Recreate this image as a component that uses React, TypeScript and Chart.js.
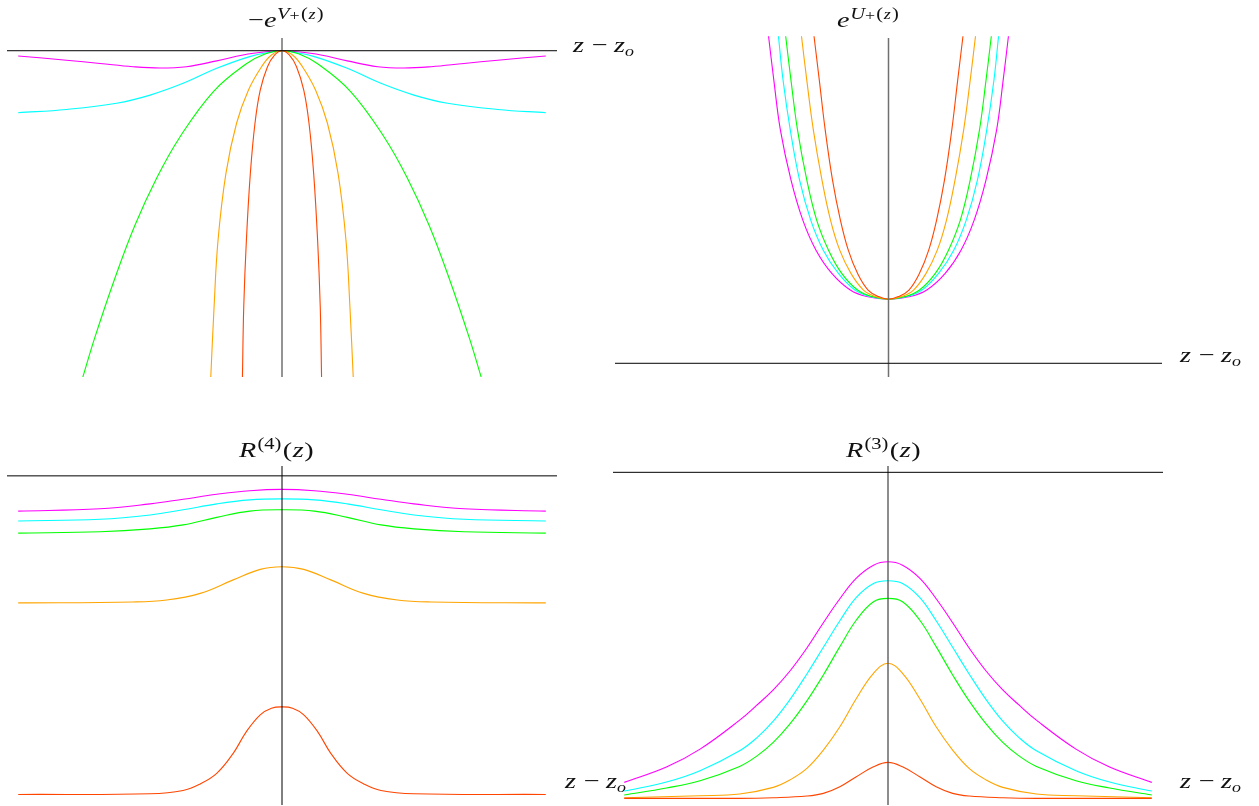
import React, { useEffect, useRef } from "react";
import { Chart, registerables } from "chart.js";

Chart.register(...registerables);

// ---------- colours ----------
const MAGENTA = "#ff00ff";
const CYAN = "#00ffff";
const GREEN = "#00ff00";
const ORANGE = "#ffa500";
const RED = "#ff4500";

// ---------- top-left: -e^{V+(z)} ----------
const tlMagentaX = [-4.0, -3.27, -2.76, -2.26, -1.85, -1.45, -0.99, -0.59, -0.23, 0, 0.23, 0.59, 0.99, 1.45, 1.85, 2.26, 2.76, 3.27, 4.0];
const tlMagentaY = [-0.16, -0.29, -0.39, -0.49, -0.53, -0.49, -0.31, -0.13, -0.03, 0, -0.03, -0.13, -0.31, -0.49, -0.53, -0.49, -0.39, -0.29, -0.16];
const tlCyanX = [-4.0, -3.27, -2.51, -2.0, -1.5, -0.99, -0.49, -0.13, 0, 0.13, 0.49, 0.99, 1.5, 2.0, 2.51, 3.27, 4.0];
const tlCyanY = [-1.9, -1.8, -1.61, -1.36, -1.0, -0.54, -0.18, -0.03, 0, -0.03, -0.18, -0.54, -1.0, -1.36, -1.61, -1.8, -1.9];
const tlGreenX = [-3.02, -2.84, -2.53, -2.23, -1.9, -1.55, -1.04, -0.54, -0.25, 0, 0.25, 0.54, 1.04, 1.55, 1.9, 2.23, 2.53, 2.84, 3.02];
const tlGreenY = [-10, -8.8, -6.95, -5.35, -3.9, -2.65, -1.25, -0.4, -0.09, 0, -0.09, -0.4, -1.25, -2.65, -3.9, -5.35, -6.95, -8.8, -10];
const tlOrangeX = [-1.08, -1.03, -0.97, -0.85, -0.69, -0.51, -0.31, -0.16, 0, 0.16, 0.31, 0.51, 0.69, 0.85, 0.97, 1.03, 1.08];
const tlOrangeY = [-10, -7.85, -5.81, -3.76, -2.23, -1.21, -0.49, -0.13, 0, -0.13, -0.49, -1.21, -2.23, -3.76, -5.81, -7.85, -10];
const tlRedX = [-0.6, -0.58, -0.54, -0.48, -0.41, -0.33, -0.22, -0.11, 0, 0.11, 0.22, 0.33, 0.41, 0.48, 0.54, 0.58, 0.6];
const tlRedY = [-10, -7.85, -5.81, -3.76, -2.23, -1.21, -0.49, -0.13, 0, -0.13, -0.49, -1.21, -2.23, -3.76, -5.81, -7.85, -10];
const tlAxisX = [-4.17, 4.17];
const tlAxisY = [-10, 0.39];

// ---------- top-right: e^{U+(z)} ----------
const trLevelsY = [10.0, 8.66, 7.13, 5.61, 4.38, 3.46, 2.75, 2.24, 2.04, 1.96, 2.04, 2.24, 2.75, 3.46, 4.38, 5.61, 7.13, 8.66, 10.0];
const trMagentaX = [-1.82, -1.74, -1.64, -1.48, -1.3, -1.1, -0.86, -0.58, -0.33, 0, 0.33, 0.58, 0.86, 1.1, 1.3, 1.48, 1.64, 1.74, 1.82];
const trCyanX = [-1.67, -1.6, -1.49, -1.35, -1.18, -0.99, -0.76, -0.51, -0.28, 0, 0.28, 0.51, 0.76, 0.99, 1.18, 1.35, 1.49, 1.6, 1.67];
const trGreenX = [-1.56, -1.48, -1.38, -1.24, -1.09, -0.91, -0.71, -0.47, -0.25, 0, 0.25, 0.47, 0.71, 0.91, 1.09, 1.24, 1.38, 1.48, 1.56];
const trOrangeX = [-1.32, -1.24, -1.14, -1.01, -0.88, -0.74, -0.57, -0.38, -0.2, 0, 0.2, 0.38, 0.57, 0.74, 0.88, 1.01, 1.14, 1.24, 1.32];
const trRedX = [-1.13, -1.05, -0.96, -0.85, -0.73, -0.61, -0.47, -0.31, -0.15, 0, 0.15, 0.31, 0.47, 0.61, 0.73, 0.85, 0.96, 1.05, 1.13];
const trAxisX = [-4.15, 4.15];
const trAxisY = [-0.42, 9.95];

// ---------- bottom-left: R^(4)(z) ----------
const blX = [-4.0, -2.76, -2.0, -1.5, -0.99, -0.49, 0, 0.49, 0.99, 1.5, 2.0, 2.76, 4.0];
const blMagentaY = [-1.07, -1.0, -0.85, -0.71, -0.56, -0.45, -0.41, -0.45, -0.56, -0.71, -0.85, -1.0, -1.07];
const blCyanY = [-1.37, -1.32, -1.19, -1.03, -0.85, -0.73, -0.7, -0.73, -0.85, -1.03, -1.19, -1.32, -1.37];
const blGreenY = [-1.74, -1.7, -1.61, -1.49, -1.26, -1.07, -1.03, -1.07, -1.26, -1.49, -1.61, -1.7, -1.74];
const blOrangeX = [-4.0, -2.26, -1.75, -1.24, -0.74, -0.33, 0, 0.33, 0.74, 1.24, 1.75, 2.26, 4.0];
const blOrangeY = [-3.86, -3.83, -3.77, -3.57, -3.16, -2.84, -2.76, -2.84, -3.16, -3.57, -3.77, -3.83, -3.86];
const blRedX = [-4.0, -2.0, -1.5, -1.24, -0.99, -0.74, -0.54, -0.33, -0.16, 0, 0.16, 0.33, 0.54, 0.74, 0.99, 1.24, 1.5, 2.0, 4.0];
const blRedY = [-9.68, -9.66, -9.56, -9.36, -9.04, -8.43, -7.77, -7.26, -7.06, -7.02, -7.06, -7.26, -7.77, -8.43, -9.04, -9.36, -9.56, -9.66, -9.68];
const blAxisX = [-4.17, 4.17];
const blAxisY = [-10, 0.3];

// ---------- bottom-right: R^(3)(z) ----------
const brX = [-4.0, -3.36, -2.85, -2.25, -1.99, -1.74, -1.49, -1.23, -0.98, -0.73, -0.48, -0.22, 0, 0.22, 0.48, 0.73, 0.98, 1.23, 1.49, 1.74, 1.99, 2.25, 2.85, 3.36, 4.0];
const brMagentaY = [-9.32, -8.86, -8.32, -7.45, -7.0, -6.54, -5.98, -5.28, -4.52, -3.8, -3.18, -2.79, -2.69, -2.79, -3.18, -3.8, -4.52, -5.28, -5.98, -6.54, -7.0, -7.45, -8.32, -8.86, -9.32];
const brCyanY = [-9.58, -9.31, -8.97, -8.37, -7.98, -7.48, -6.84, -6.06, -5.26, -4.46, -3.76, -3.34, -3.26, -3.34, -3.76, -4.46, -5.26, -6.06, -6.84, -7.48, -7.98, -8.37, -8.97, -9.31, -9.58];
const brGreenY = [-9.7, -9.49, -9.27, -8.84, -8.53, -8.12, -7.57, -6.87, -6.09, -5.24, -4.44, -3.89, -3.79, -3.89, -4.44, -5.24, -6.09, -6.87, -7.57, -8.12, -8.53, -8.84, -9.27, -9.49, -9.7];
const brOrangeX = [-4.0, -2.85, -2.25, -1.74, -1.49, -1.23, -0.98, -0.73, -0.48, -0.22, 0, 0.22, 0.48, 0.73, 0.98, 1.23, 1.49, 1.74, 2.25, 2.85, 4.0];
const brOrangeY = [-9.78, -9.72, -9.67, -9.47, -9.25, -8.9, -8.35, -7.65, -6.8, -6.04, -5.74, -6.04, -6.8, -7.65, -8.35, -8.9, -9.25, -9.47, -9.67, -9.72, -9.78];
const brRedX = [-4.0, -2.25, -1.74, -1.23, -0.98, -0.73, -0.48, -0.22, 0, 0.22, 0.48, 0.73, 0.98, 1.23, 1.74, 2.25, 4.0];
const brRedY = [-9.8, -9.8, -9.78, -9.73, -9.65, -9.45, -9.15, -8.85, -8.72, -8.85, -9.15, -9.45, -9.65, -9.73, -9.78, -9.8, -9.8];
const brAxisX = [-4.17, 4.17];
const brAxisY = [-10, 0.19];

// ---------- text ----------
type Piece = { t: string; size: number; italic?: boolean; dy?: number; pre?: number; post?: number };
type Label = { x: number; y: number; pieces: Piece[] };

const FONT = '"Liberation Serif", "DejaVu Serif", serif';
const STRETCH = 1.28; // the reference lettering is wide
const BIG = 22;
const SUP = 16;
const MID = 14;

const zLabel: Piece[] = [
  { t: "z", size: BIG, italic: true },
  { t: "\u2212", size: BIG, pre: 6, post: 5 },
  { t: "z", size: BIG, italic: true },
  { t: "o", size: MID, italic: true, dy: 4 },
];

type Series = { x: number[]; y: number[]; color: string };
type Panel = {
  canvas: { left: number; top: number; width: number; height: number };
  area: { left: number; top: number; right: number; bottom: number };
  xRange: number[];
  yRange: number[];
  axisX: number[];
  axisY: number[];
  vAxisColor: string;
  vAxisWidth: number;
  series: Series[];
  labels: Label[];
};

const expSup = (letter: string): Piece[] => [
  { t: letter, size: SUP, italic: true, dy: -8, pre: 0.5 },
  { t: "+", size: MID, dy: -7 },
  { t: "(", size: SUP, dy: -8, pre: 1 },
  { t: "z", size: MID, italic: true, dy: -8, pre: 0.5 },
  { t: ")", size: SUP, dy: -8, pre: 1 },
];

const rSup = (n: string): Piece[] => [
  { t: "R", size: BIG, italic: true },
  { t: `(${n})`, size: SUP, dy: -8, pre: 1 },
  { t: "(", size: BIG, pre: 1 },
  { t: "z", size: BIG, italic: true, pre: 0.5 },
  { t: ")", size: BIG, pre: 0.5 },
];

const panels: Panel[] = [
  {
    canvas: { left: 0, top: 0, width: 660, height: 403 },
    area: { left: 7, top: 38, right: 557, bottom: 377 },
    xRange: [-4.17, 4.17],
    yRange: [-10, 0.39],
    axisX: tlAxisX,
    axisY: tlAxisY,
    vAxisColor: "#707070",
    vAxisWidth: 1.5,
    series: [
      { x: tlRedX, y: tlRedY, color: RED },
      { x: tlOrangeX, y: tlOrangeY, color: ORANGE },
      { x: tlGreenX, y: tlGreenY, color: GREEN },
      { x: tlCyanX, y: tlCyanY, color: CYAN },
      { x: tlMagentaX, y: tlMagentaY, color: MAGENTA },
    ],
    labels: [
      { x: 248, y: 27, pieces: [{ t: "\u2212", size: BIG }, { t: "e", size: BIG, italic: true }, ...expSup("V")] },
      { x: 573, y: 52, pieces: zLabel },
    ],
  },
  {
    canvas: { left: 600, top: 0, width: 659, height: 403 },
    area: { left: 615, top: 35, right: 1162, bottom: 378 },
    xRange: [-4.15, 4.15],
    yRange: [-0.45, 10.04],
    axisX: trAxisX,
    axisY: trAxisY,
    vAxisColor: "#707070",
    vAxisWidth: 1.5,
    series: [
      { x: trRedX, y: trLevelsY, color: RED },
      { x: trOrangeX, y: trLevelsY, color: ORANGE },
      { x: trGreenX, y: trLevelsY, color: GREEN },
      { x: trCyanX, y: trLevelsY, color: CYAN },
      { x: trMagentaX, y: trLevelsY, color: MAGENTA },
    ],
    labels: [
      { x: 837, y: 27, pieces: [{ t: "e", size: BIG, italic: true }, ...expSup("U")] },
      { x: 1180, y: 362, pieces: zLabel },
    ],
  },
  {
    canvas: { left: 0, top: 403, width: 660, height: 403 },
    area: { left: 7, top: 466, right: 557, bottom: 805 },
    xRange: [-4.17, 4.17],
    yRange: [-10, 0.3],
    axisX: blAxisX,
    axisY: blAxisY,
    vAxisColor: "#000000",
    vAxisWidth: 1,
    series: [
      { x: blRedX, y: blRedY, color: RED },
      { x: blOrangeX, y: blOrangeY, color: ORANGE },
      { x: blX, y: blGreenY, color: GREEN },
      { x: blX, y: blCyanY, color: CYAN },
      { x: blX, y: blMagentaY, color: MAGENTA },
    ],
    labels: [
      { x: 239, y: 457, pieces: rSup("4") },
      { x: 565, y: 788, pieces: zLabel },
    ],
  },
  {
    canvas: { left: 600, top: 403, width: 659, height: 403 },
    area: { left: 613, top: 466, right: 1163, bottom: 805 },
    xRange: [-4.17, 4.17],
    yRange: [-10, 0.19],
    axisX: brAxisX,
    axisY: brAxisY,
    vAxisColor: "#505050",
    vAxisWidth: 1.3,
    series: [
      { x: brRedX, y: brRedY, color: RED },
      { x: brOrangeX, y: brOrangeY, color: ORANGE },
      { x: brX, y: brGreenY, color: GREEN },
      { x: brX, y: brCyanY, color: CYAN },
      { x: brX, y: brMagentaY, color: MAGENTA },
    ],
    labels: [
      { x: 846, y: 457, pieces: rSup("3") },
      { x: 1180, y: 788, pieces: zLabel },
    ],
  },
];

function drawRich(ctx: CanvasRenderingContext2D, x: number, y: number, pieces: Piece[]) {
  ctx.save();
  ctx.translate(x, y);
  ctx.scale(STRETCH, 1);
  let cx = 0;
  for (const p of pieces) {
    cx += p.pre ?? 0;
    ctx.font = `${p.italic ? "italic " : ""}${p.size}px ${FONT}`;
    ctx.fillText(p.t, cx, p.dy ?? 0);
    cx += ctx.measureText(p.t).width + (p.post ?? 0);
  }
  ctx.restore();
}

function PanelChart({ panel }: { panel: Panel }) {
  const ref = useRef<HTMLCanvasElement | null>(null);
  useEffect(() => {
    const canvas = ref.current;
    if (!canvas) return;
    const c = panel.canvas;
    const a = panel.area;
    const curveSets = panel.series.map((s) => ({
      data: s.x.map((x, i) => ({ x, y: s.y[i] })),
      borderColor: s.color,
      borderWidth: 1.1,
      pointRadius: 0,
      showLine: true,
      fill: false,
      tension: 0.4,
      order: 2,
    }));
    const axisSets = [
      {
        data: panel.axisX.map((x) => ({ x, y: 0 })),
        borderColor: "#000000",
        borderWidth: 1,
        pointRadius: 0,
        showLine: true,
        fill: false,
        order: 1,
      },
      {
        data: panel.axisY.map((y) => ({ x: 0, y })),
        borderColor: panel.vAxisColor,
        borderWidth: panel.vAxisWidth,
        pointRadius: 0,
        showLine: true,
        fill: false,
        order: 1,
      },
    ];
    const textPlugin = {
      id: "mathLabels",
      afterDraw(chart: Chart) {
        const ctx = chart.ctx;
        ctx.save();
        ctx.fillStyle = "#111111";
        ctx.textBaseline = "alphabetic";
        ctx.textAlign = "left";
        for (const l of panel.labels) drawRich(ctx, l.x - c.left, l.y - c.top, l.pieces);
        ctx.restore();
      },
    };
    const chart = new Chart(canvas, {
      type: "scatter",
      data: { datasets: [...curveSets, ...axisSets] as any },
      options: {
        animation: false,
        responsive: false,
        devicePixelRatio: 1,
        layout: {
          padding: {
            left: a.left - c.left,
            top: a.top - c.top,
            right: c.left + c.width - a.right,
            bottom: c.top + c.height - a.bottom,
          },
        },
        plugins: { legend: { display: false }, tooltip: { enabled: false }, title: { display: false } },
        events: [],
        scales: {
          x: { type: "linear", min: panel.xRange[0], max: panel.xRange[1], display: false },
          y: { type: "linear", min: panel.yRange[0], max: panel.yRange[1], display: false },
        },
      },
      plugins: [textPlugin],
    });
    return () => chart.destroy();
  }, [panel]);
  const c = panel.canvas;
  return (
    <canvas
      ref={ref}
      width={c.width}
      height={c.height}
      style={{ position: "absolute", left: c.left, top: c.top, width: c.width, height: c.height }}
    />
  );
}

export default function App() {
  return (
    <div
      style={{
        position: "absolute",
        left: 0,
        top: 0,
        width: 1259,
        height: 806,
        background: "#ffffff",
        overflow: "hidden",
      }}
    >
      {panels.map((p, i) => (
        <PanelChart key={i} panel={p} />
      ))}
    </div>
  );
}
